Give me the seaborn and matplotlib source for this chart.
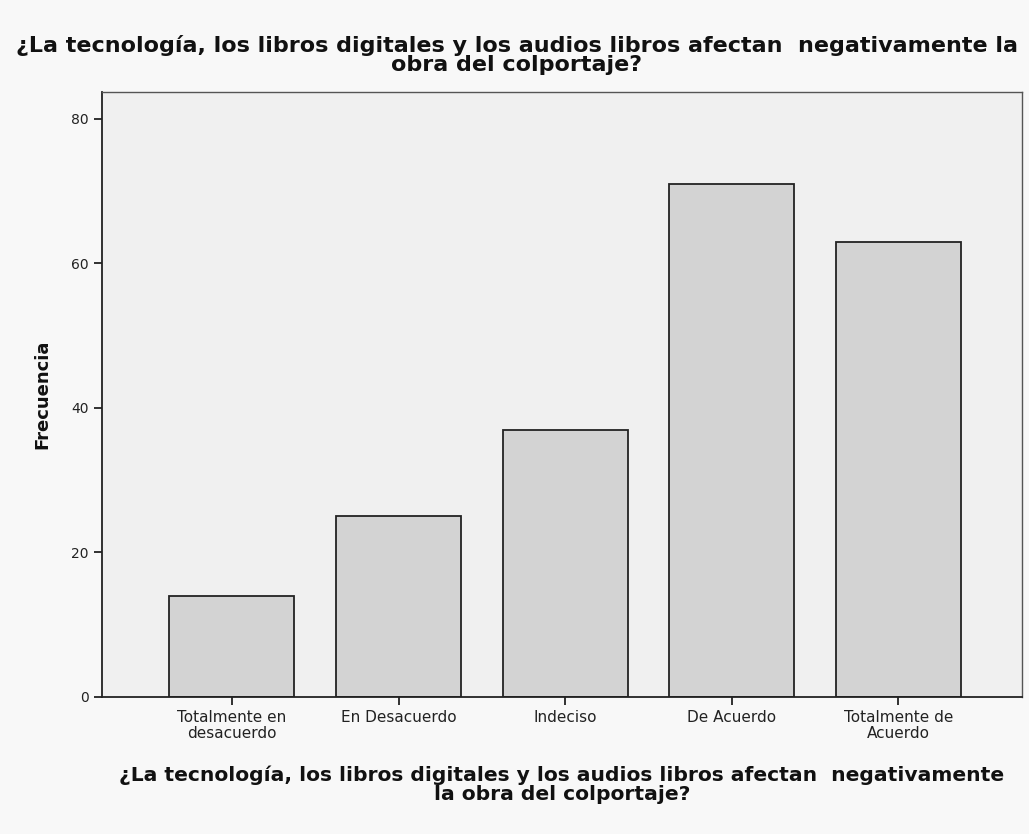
import numpy as np
import pandas as pd
import matplotlib
matplotlib.use('Agg')
import matplotlib.pyplot as plt
import seaborn as sns

categorias = ['Totalmente en\ndesacuerdo', 'En Desacuerdo', 'Indeciso',
              'De Acuerdo', 'Totalmente de\nAcuerdo']
frecuencia = [14, 25, 37, 71, 63]
y_ticks = [0, 20, 40, 60, 80]

pregunta = '¿La tecnología, los libros digitales y los audios libros afectan  negativamente la\nobra del colportaje?'
pregunta_x = '¿La tecnología, los libros digitales y los audios libros afectan  negativamente\nla obra del colportaje?'

sns.set_style('white')
plt.rcParams['font.family'] = ['DejaVu Sans']

df = pd.DataFrame({'cat': categorias, 'n': frecuencia})

fig = plt.figure(figsize=(10.29, 8.34), dpi=100, facecolor='#f8f8f8')
ax = fig.add_axes([0.0991, 0.1643, 0.8939, 0.7254])
ax.set_facecolor('#f0f0f0')

sns.barplot(data=df, x='cat', y='n', color='#d3d3d3', width=0.75,
            edgecolor='#222222', linewidth=1.3, saturation=1, ax=ax)

ax.set_xlim(-0.78, 4.74)
ax.set_ylim(0, 83.7)
ax.set_yticks(y_ticks)
ax.set_yticklabels([str(t) for t in y_ticks])

for s in ['left', 'bottom']:
    ax.spines[s].set_color('#222222')
    ax.spines[s].set_linewidth(1.3)
for s in ['top', 'right']:
    ax.spines[s].set_color('#555555')
    ax.spines[s].set_linewidth(1.0)

ax.tick_params(axis='both', direction='out', length=6, width=1.3, color='#222222',
               labelcolor='#222222', left=True, bottom=True)
ax.tick_params(axis='x', labelsize=11)
ax.tick_params(axis='y', labelsize=10)
for lbl in ax.get_xticklabels():
    lbl.set_linespacing(1.05)

ax.set_xlabel(pregunta_x, fontsize=14.6, fontweight='bold', labelpad=18, linespacing=1.0,
              color='#111111')
ax.set_ylabel('Frecuencia', fontsize=13, fontweight='bold', labelpad=14, color='#111111')
fig.suptitle(pregunta, x=0.502, y=0.958, fontsize=16, fontweight='bold',
             linespacing=0.95, color='#111111', va='top')

fig.savefig('out.png', dpi=100, facecolor=fig.get_facecolor())
